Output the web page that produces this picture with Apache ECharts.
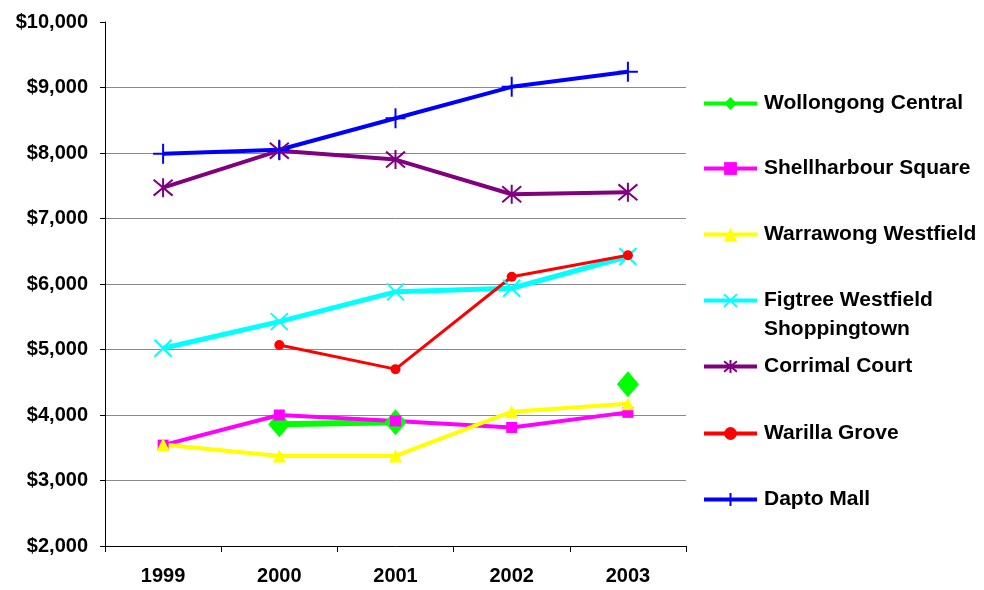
<!DOCTYPE html>
<html>
<head>
<meta charset="utf-8">
<script src="https://cdn.jsdelivr.net/npm/echarts@6/dist/echarts.min.js"></script>
<style>
  html, body { margin: 0; padding: 0; background: #fff; }
  #chart { width: 984px; height: 590px; }
</style>
</head>
<body>
<div id="chart"></div>
<script>
// 数据
const years = ['1999', '2000', '2001', '2002', '2003']
const seriesNames = [
  'Wollongong Central',
  'Shellharbour Square',
  'Warrawong Westfield',
  'Figtree Westfield Shoppingtown',
  'Corrimal Court',
  'Warilla Grove',
  'Dapto Mall'
]
const wollongong = [null, 3860, 3890, null, 4470]
const shellharbour = [3540, 4000, 3910, 3810, 4040]
const warrawong = [3550, 3375, 3375, 4050, 4170]
const figtree = [5020, 5425, 5880, 5935, 6420]
const corrimal = [7470, 8035, 7900, 7370, 7400]
const warilla = [null, 5070, 4700, 6110, 6440]
const dapto = [7990, 8050, 8530, 9010, 9240]

const FONT = 'Arial, "Liberation Sans", Helvetica, sans-serif'

// 标记形状
const plusPath = 'path://M5,0L5,10M0,5L10,5'
const crossPath = 'path://M0,0L10,10M10,0L0,10'
const starPath = 'path://M0,0L10,10M10,0L0,10M5,-1L5,11'

const makeLine = (name, data, color, opts = {}) => ({
  name,
  type: 'line',
  data,
  connectNulls: false,
  symbol: opts.symbol,
  symbolSize: opts.size,
  showAllSymbol: true,
  lineStyle: { color, width: opts.width || 4 },
  itemStyle: opts.stroke
    ? { color: 'rgba(0,0,0,0)', borderColor: color, borderWidth: 2 }
    : { color, borderWidth: 0 },
  emphasis: { disabled: true },
  animation: false
})

const series = [
  makeLine(seriesNames[0], wollongong, '#00ff00', { symbol: 'diamond', size: [22, 26], width: 6 }),
  makeLine(seriesNames[1], shellharbour, '#ff00ff', { symbol: 'rect', size: 11 }),
  makeLine(seriesNames[2], warrawong, '#ffff00', { symbol: 'triangle', size: 13 }),
  makeLine(seriesNames[3], figtree, '#00ffff', { symbol: crossPath, size: 17, width: 5, stroke: true }),
  makeLine(seriesNames[4], corrimal, '#800080', { symbol: starPath, size: 19, stroke: true }),
  makeLine(seriesNames[5], warilla, '#ff0000', { symbol: 'circle', size: 10, width: 3 }),
  makeLine(seriesNames[6], dapto, '#0000ff', { symbol: plusPath, size: 20, stroke: true })
]

// 图例 每项单独定位
const legendTops = [101, 166, 232, 298, 364, 431, 497]
const legend = seriesNames.map((name, i) => ({
  data: [name],
  left: 702,
  top: legendTops[i] - 8,
  padding: 0,
  orient: 'vertical',
  itemWidth: 53,
  itemHeight: 16,
  itemGap: 0,
  selectedMode: false,
  lineStyle: { width: 4 },
  formatter: (n) => n === seriesNames[3] ? 'Figtree Westfield' : n,
  textStyle: { fontFamily: FONT, fontWeight: 'bold', fontSize: 21, color: '#000', padding: [0, 0, 0, 2] }
}))

const chart = echarts.init(document.getElementById('chart'), null, { renderer: 'canvas' })
chart.setOption({
  backgroundColor: '#fff',
  animation: false,
  grid: { left: 105, right: 298, top: 22, bottom: 44 },
  legend,
  graphic: [{
    type: 'text',
    left: 764,
    top: 327 - 8,
    style: { text: 'Shoppingtown', font: 'bold 21px ' + FONT, fill: '#000' }
  }],
  xAxis: {
    type: 'category',
    data: years,
    boundaryGap: true,
    axisLine: { lineStyle: { color: '#000', width: 1 } },
    axisTick: { show: true, length: 6, inside: false, lineStyle: { color: '#000' } },
    axisLabel: { margin: 20, fontFamily: FONT, fontWeight: 'bold', fontSize: 20, color: '#000' }
  },
  yAxis: {
    type: 'value',
    min: 2000,
    max: 10000,
    interval: 1000,
    axisLine: { show: true, lineStyle: { color: '#000', width: 1 } },
    axisTick: { show: true, length: 5, lineStyle: { color: '#000' } },
    axisLabel: {
      margin: 17,
      fontFamily: FONT, fontWeight: 'bold', fontSize: 20, color: '#000',
      formatter: (v) => '$' + v.toLocaleString('en-US')
    },
    splitLine: { show: true, showMaxLine: false, lineStyle: { color: '#8a8a8a', width: 1 } }
  },
  series
})
</script>
</body>
</html>
